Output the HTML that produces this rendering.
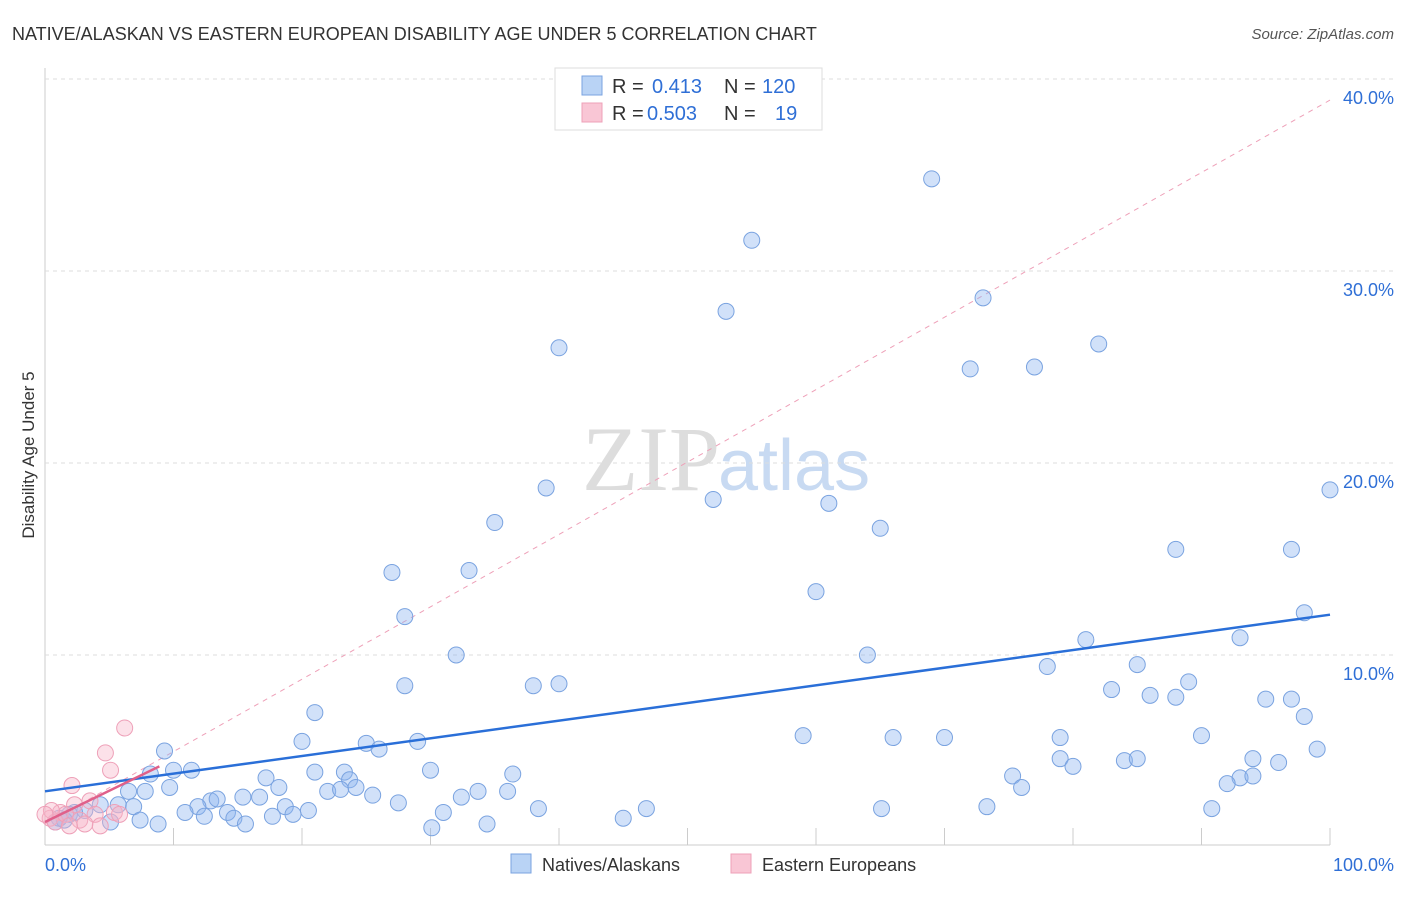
<!DOCTYPE html>
<html><head><meta charset="utf-8"><style>
body{margin:0;background:#fff;font-family:"Liberation Sans",sans-serif}
</style></head><body>
<svg id="c" width="1406" height="892" xmlns="http://www.w3.org/2000/svg">
<text x="12" y="40" font-size="18" fill="#333">NATIVE/ALASKAN VS EASTERN EUROPEAN DISABILITY AGE UNDER 5 CORRELATION CHART</text>
<text x="1394" y="39" font-size="15" fill="#555" font-style="italic" text-anchor="end">Source: ZipAtlas.com</text>
<text x="720" y="490" font-size="92" fill="#ddd" text-anchor="end" font-family="Liberation Serif,serif">ZIP</text>
<text x="718" y="490" font-size="72" fill="#c8daf2">atlas</text>
<text x="34" y="455" font-size="17" fill="#333" transform="rotate(-90 34 455)" text-anchor="middle">Disability Age Under 5</text>
<g id="grid"></g><g id="marks"></g>
<rect x="555" y="68" width="267" height="62" fill="#fff" stroke="#ddd"/>
<rect x="582" y="76" width="20" height="19" fill="#b9d3f5" stroke="#7aa3e0"/>
<rect x="582" y="103" width="20" height="19" fill="#f9c6d5" stroke="#eea0b8"/>
<text font-size="20" fill="#333"><tspan x="612" y="93">R = </tspan><tspan x="652" fill="#2f6fd6">0.413</tspan><tspan x="724">N = </tspan><tspan x="762" fill="#2f6fd6">120</tspan></text>
<text font-size="20" fill="#333"><tspan x="612" y="120">R = </tspan><tspan x="647" fill="#2f6fd6">0.503</tspan><tspan x="724">N = </tspan><tspan x="775" fill="#2f6fd6">19</tspan></text>
<rect x="511" y="854" width="20" height="19" fill="#b9d3f5" stroke="#7aa3e0"/>
<text x="542" y="871" font-size="18" fill="#333">Natives/Alaskans</text>
<rect x="731" y="854" width="20" height="19" fill="#f9c6d5" stroke="#eea0b8"/>
<text x="762" y="871" font-size="18" fill="#333">Eastern Europeans</text>
</svg>
<script>
const xTicks=[0,10,20,30,40,50,60,70,80,90,100];
const yTicks=[10,20,30,40];
const blueX=[69,55,53,73,40,82,72,77,39,52,61,100,65,35,88,97,27,33,60,28,98,81,93,32,64,85,78,28,38,40,83,86,89,88,95,97,98,21,20,25,26,29,59,66,70,79,90,99,9.3,79,84,85,94,96,80,8.2,10,11.4,17.2,21,23.3,23.7,30,36.4,75.3,93,94,92,76,9.7,6.5,7.8,18.2,22,23,24.2,25.5,33.7,36,15.4,16.7,12.9,13.4,11.9,18.7,20.5,27.5,32.4,38.4,46.8,65.1,73.3,90.8,5.7,6.9,10.9,14.2,12.4,14.7,19.3,17.7,31,4.3,7.4,8.8,15.6,30.1,34.4,45,5.1,3.1,1.9,1.1,1.5,0.8,2.3];
const blueY=[34.8,31.6,27.9,28.6,26.0,26.2,24.9,25.0,18.7,18.1,17.9,18.6,16.6,16.9,15.5,15.5,14.3,14.4,13.3,12.0,12.2,10.8,10.9,10.0,10.0,9.5,9.4,8.4,8.4,8.5,8.2,7.9,8.6,7.8,7.7,7.7,6.8,7.0,5.5,5.4,5.1,5.5,5.8,5.7,5.7,5.7,5.8,5.1,5.0,4.6,4.5,4.6,4.6,4.4,4.2,3.8,4.0,4.0,3.6,3.9,3.9,3.5,4.0,3.8,3.7,3.6,3.7,3.3,3.1,3.1,2.9,2.9,3.1,2.9,3.0,3.1,2.7,2.9,2.9,2.6,2.6,2.4,2.5,2.1,2.1,1.9,2.3,2.6,2.0,2.0,2.0,2.1,2.0,2.2,2.1,1.8,1.8,1.6,1.5,1.7,1.6,1.8,2.2,1.4,1.2,1.2,1.0,1.2,1.5,1.3,1.9,1.7,1.5,1.4,1.3,1.8,1.5];
const pinkX=[6.2,4.7,5.1,2.1,3.5,2.3,1.2,3.9,5.4,0.4,0.8,1.6,2.7,4.3,3.1,5.8,1.9,0.5,0];
const pinkY=[6.2,4.9,4.0,3.2,2.4,2.2,1.8,1.7,1.8,1.5,1.3,1.7,1.4,1.1,1.2,1.7,1.1,1.9,1.7];
const blueTrend=[[0,2.9],[100,12.1]];
const pinkTrend=[[0,1.3],[8.9,4.2]];
const pinkDash=[[0,1.2],[100,38.9]];
const X=v=>45+v*12.85, Y=v=>847-v*19.2;
const NS="http://www.w3.org/2000/svg";
function mk(t,a,p){const e=document.createElementNS(NS,t);for(const k in a)e.setAttribute(k,a[k]);p.appendChild(e);return e;}
const g=document.getElementById('grid'),m=document.getElementById('marks');
mk('line',{x1:45,y1:68,x2:45,y2:845,stroke:'#ccc'},g);
mk('line',{x1:45,y1:845,x2:1330,y2:845,stroke:'#ccc'},g);
yTicks.forEach(v=>{
const l=mk('line',{x1:45,y1:Y(v),x2:1394,y2:Y(v),stroke:'#ddd','stroke-dasharray':'4,4'},g);


const t=mk('text',{x:1394,y:Y(v)+25,'font-size':18,fill:'#2f6fd6','text-anchor':'end'},g);t.textContent=v.toFixed(1)+'%';

});
xTicks.forEach(v=>{const l=mk('line',{x1:X(v),y1:828,x2:X(v),y2:845,stroke:'#ccc'},g);

});
[[0,'0.0%',45,'start'],[100,'100.0%',1394,'end']].forEach(a=>{const t=mk('text',{x:a[2],y:871,'font-size':18,fill:'#2f6fd6','text-anchor':a[3]},g);t.textContent=a[1];

});
const pd=mk('line',{x1:X(pinkDash[0][0]),y1:Y(pinkDash[0][1]),x2:X(pinkDash[1][0]),y2:Y(pinkDash[1][1]),stroke:'#eea0b8','stroke-dasharray':'5,5'},m);


blueX.forEach((x,i)=>{const c=mk('circle',{cx:X(x),cy:Y(blueY[i]),r:8,fill:'rgba(140,180,240,0.4)',stroke:'#7aa3e0'},m);

});
pinkX.forEach((x,i)=>{const c=mk('circle',{cx:X(x),cy:Y(pinkY[i]),r:8,fill:'rgba(248,180,200,0.4)',stroke:'#eea0b8'},m);

});
const bt=mk('line',{x1:X(blueTrend[0][0]),y1:Y(blueTrend[0][1]),x2:X(blueTrend[1][0]),y2:Y(blueTrend[1][1]),stroke:'#2a6fd8','stroke-width':2.5},m);


const pt=mk('line',{x1:X(pinkTrend[0][0]),y1:Y(pinkTrend[0][1]),x2:X(pinkTrend[1][0]),y2:Y(pinkTrend[1][1]),stroke:'#e0608a','stroke-width':2.5},m);


</script>
</body></html>
